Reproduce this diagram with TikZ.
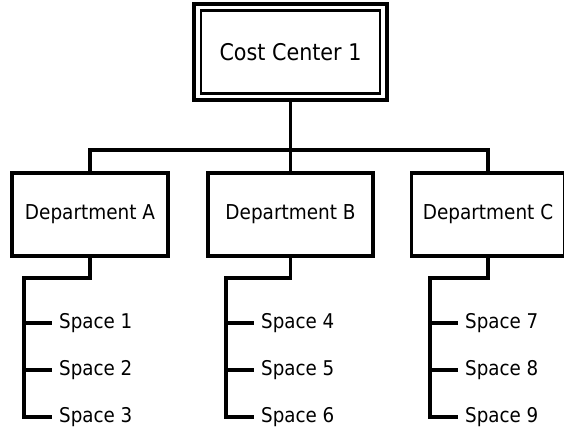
\documentclass[tikz,border=0pt]{standalone}
\usepackage{fontspec}
\setmainfont{DejaVu Sans Condensed}
\begin{document}
\begin{tikzpicture}[x=1pt,y=-1pt,
  conn/.style={line width=3.2pt, line cap=rect, line join=miter},
  deptbox/.style={draw, line width=3.2pt, minimum width=#1, minimum height=83pt, inner sep=0pt},
  lbl/.style={anchor=west, inner sep=0pt, font=\fontsize{20.3}{24}\selectfont},
  txt/.style={font=\fontsize{20.5}{24}\selectfont}]
\useasboundingbox (0,0) rectangle (564,433);
\clip (0,0) rectangle (564,433);

% top cost center, double frame
\node[draw, line width=3.2pt, minimum width=193pt, minimum height=96pt, inner sep=0pt] (top) at (290.5,52) {};
\draw[line width=2.2pt] (201,10.5) rectangle (380,93.5);
\node[font=\fontsize{23}{26}\selectfont] at (top.center) {Cost Center 1};

% departments
\node[deptbox=156pt, txt] (da) at (90,214.5) {Department A};
\node[deptbox=165pt, txt] (db) at (290.5,214.5) {Department B};
\node[deptbox=153pt, txt] (dc) at (488,214.5) {Department C};

% bus between top and departments
\coordinate (bus) at (290.5,150);
\draw[conn] (top.south) -- (bus);
\draw[conn] (da.north) |- (bus) -| (dc.north);
\draw[conn] (bus) -- (db.north);

% spaces under each department
\foreach \d/\tx/\a/\b/\c in {da/24/1/2/3, db/226/4/5/6, dc/430/7/8/9}{
  \coordinate (\d-elbow) at (\tx,278);
  \coordinate (\d-t1) at (\tx,323);
  \coordinate (\d-t2) at (\tx,370);
  \coordinate (\d-t3) at (\tx,417);
  \node[lbl] (\d-s1) at (\tx+35,323) {Space \a};
  \node[lbl] (\d-s2) at (\tx+35,370) {Space \b};
  \node[lbl] (\d-s3) at (\tx+35,417) {Space \c};
  \draw[conn] (\d.south) |- (\d-elbow) -- (\d-t3) -- ++(26,0);
  \draw[conn] (\d-t1) -- ++(26,0);
  \draw[conn] (\d-t2) -- ++(26,0);
}
\end{tikzpicture}
\end{document}
